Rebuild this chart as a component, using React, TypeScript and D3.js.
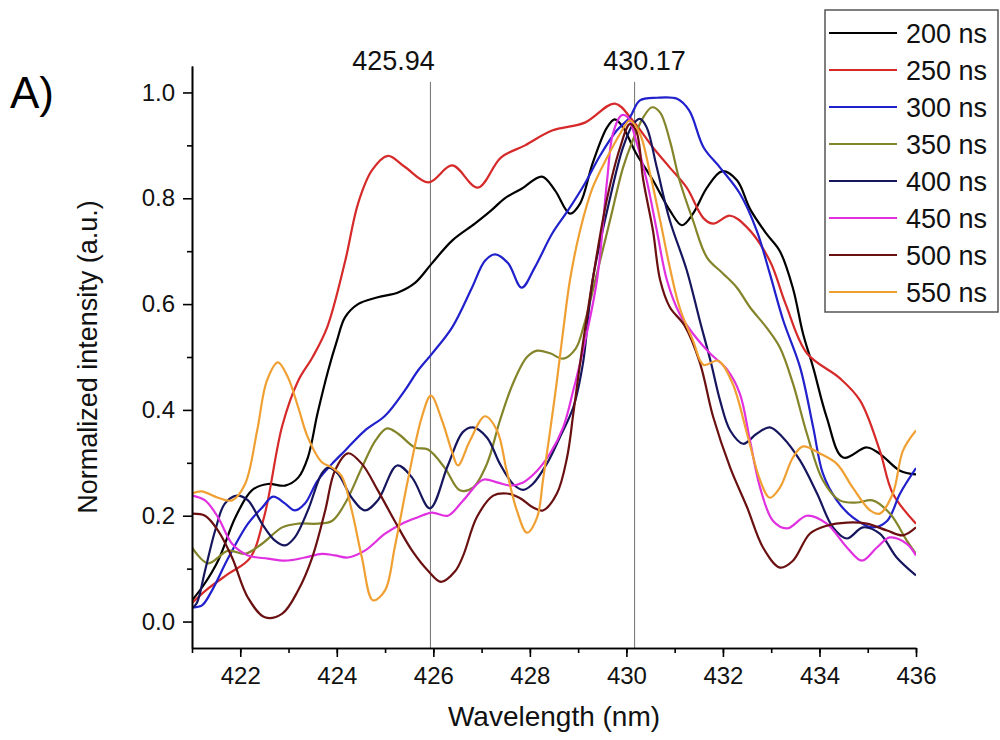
import React, {useEffect, useRef} from 'react';
import * as d3 from 'd3';

type Pt = [number, number];

// wavelength (nm), normalized intensity
const ns200: Pt[] = [
  [421.0, 0.04], [421.25, 0.07], [421.54, 0.115], [421.9, 0.197], [422.24, 0.248], [422.57, 0.26],
  [422.93, 0.257], [423.2, 0.272], [423.4, 0.31], [423.6, 0.393], [423.82, 0.474], [424.0, 0.53],
  [424.17, 0.575], [424.44, 0.6], [424.85, 0.613], [425.27, 0.622], [425.62, 0.64], [425.97, 0.677],
  [426.39, 0.72], [426.86, 0.752], [427.2, 0.777], [427.48, 0.8], [427.83, 0.818], [428.25, 0.841],
  [428.52, 0.815], [428.83, 0.771], [429.04, 0.79], [429.3, 0.866], [429.6, 0.934], [429.76, 0.949],
  [429.93, 0.934], [430.2, 0.885], [430.55, 0.834], [430.9, 0.777], [431.15, 0.749], [431.38, 0.771],
  [431.67, 0.82], [431.98, 0.851], [432.29, 0.834], [432.56, 0.78], [432.9, 0.733], [433.18, 0.7],
  [433.45, 0.63], [433.66, 0.544], [433.87, 0.48], [434.15, 0.386], [434.49, 0.31], [434.98, 0.329],
  [435.25, 0.317], [435.67, 0.285], [436.0, 0.278],
];
const ns250: Pt[] = [
  [421.0, 0.035], [421.3, 0.06], [421.75, 0.09], [422.2, 0.12], [422.5, 0.2], [422.87, 0.37],
  [423.2, 0.455], [423.5, 0.5], [423.8, 0.556], [424.17, 0.68], [424.44, 0.79], [424.73, 0.853],
  [425.06, 0.88], [425.4, 0.86], [425.9, 0.83], [426.39, 0.862], [426.92, 0.82], [427.4, 0.877],
  [427.9, 0.9], [428.46, 0.928], [429.14, 0.943], [429.76, 0.979], [430.13, 0.947], [430.55, 0.896],
  [430.9, 0.858], [431.25, 0.82], [431.6, 0.762], [431.8, 0.752], [432.15, 0.767], [432.5, 0.745],
  [432.97, 0.682], [433.3, 0.6], [433.74, 0.507], [434.42, 0.46], [434.84, 0.418], [435.25, 0.323],
  [435.52, 0.242], [436.0, 0.185],
];
const ns300: Pt[] = [
  [421.0, 0.027], [421.2, 0.03], [421.41, 0.058], [421.75, 0.12], [422.16, 0.185], [422.45, 0.215],
  [422.68, 0.236], [422.93, 0.223], [423.13, 0.21], [423.34, 0.223], [423.6, 0.266], [423.9, 0.298],
  [424.17, 0.323], [424.58, 0.361], [425.0, 0.389], [425.41, 0.437], [425.68, 0.474], [425.97, 0.506],
  [426.39, 0.556], [426.8, 0.631], [427.07, 0.682], [427.28, 0.694], [427.55, 0.677], [427.83, 0.631],
  [428.1, 0.669], [428.46, 0.733], [428.79, 0.777], [429.14, 0.828], [429.45, 0.88], [429.8, 0.928],
  [430.07, 0.953], [430.28, 0.985], [430.63, 0.99], [431.05, 0.988], [431.3, 0.966], [431.6, 0.896],
  [431.94, 0.858], [432.35, 0.809], [432.7, 0.739], [432.97, 0.658], [433.25, 0.569], [433.6, 0.48],
  [433.87, 0.367], [434.07, 0.28], [434.36, 0.229], [434.69, 0.197], [435.1, 0.178], [435.4, 0.19],
  [435.67, 0.242], [436.0, 0.29],
];
const ns350: Pt[] = [
  [421.0, 0.14], [421.33, 0.11], [421.75, 0.134], [422.1, 0.128], [422.45, 0.147], [422.87, 0.178],
  [423.2, 0.185], [423.6, 0.185], [423.9, 0.19], [424.17, 0.223], [424.52, 0.291], [424.8, 0.342],
  [425.04, 0.365], [425.27, 0.355], [425.62, 0.329], [425.89, 0.325], [426.24, 0.29], [426.55, 0.248],
  [426.82, 0.253], [427.11, 0.298], [427.38, 0.38], [427.65, 0.45], [427.94, 0.5], [428.15, 0.512],
  [428.42, 0.507], [428.69, 0.497], [428.95, 0.516], [429.12, 0.56], [429.39, 0.658], [429.66, 0.758],
  [429.93, 0.858], [430.13, 0.909], [430.35, 0.953], [430.53, 0.972], [430.7, 0.962], [430.9, 0.909],
  [431.1, 0.834], [431.38, 0.758], [431.67, 0.688], [432.0, 0.658], [432.29, 0.631], [432.56, 0.594],
  [432.9, 0.556], [433.18, 0.518], [433.45, 0.45], [433.74, 0.355], [434.07, 0.267], [434.42, 0.229],
  [434.78, 0.225], [435.1, 0.229], [435.46, 0.204], [435.81, 0.153], [436.0, 0.128],
];
const ns400: Pt[] = [
  [421.0, 0.025], [421.1, 0.035], [421.27, 0.096], [421.48, 0.172], [421.68, 0.223], [421.93, 0.238],
  [422.16, 0.229], [422.45, 0.185], [422.72, 0.153], [422.93, 0.144], [423.13, 0.159], [423.4, 0.21],
  [423.69, 0.28], [423.82, 0.291], [424.02, 0.28], [424.31, 0.234], [424.58, 0.21], [424.85, 0.229],
  [425.25, 0.295], [425.56, 0.272], [425.93, 0.214], [426.3, 0.295], [426.61, 0.358], [426.82, 0.367],
  [427.11, 0.348], [427.38, 0.298], [427.65, 0.26], [427.86, 0.249], [428.06, 0.26], [428.35, 0.298],
  [428.62, 0.348], [428.9, 0.405], [429.1, 0.488], [429.3, 0.645], [429.66, 0.8], [429.93, 0.896],
  [430.14, 0.94], [430.28, 0.95], [430.42, 0.934], [430.63, 0.858], [430.9, 0.758], [431.25, 0.664],
  [431.52, 0.569], [431.75, 0.49], [431.94, 0.418], [432.15, 0.361], [432.42, 0.336], [432.7, 0.355],
  [432.97, 0.367], [433.24, 0.348], [433.6, 0.304], [433.95, 0.242], [434.28, 0.178], [434.57, 0.157],
  [434.9, 0.178], [435.25, 0.166], [435.6, 0.121], [436.0, 0.087],
];
const ns450: Pt[] = [
  [421.0, 0.238], [421.27, 0.229], [421.54, 0.197], [421.83, 0.147], [422.16, 0.125], [422.57, 0.119],
  [422.93, 0.115], [423.34, 0.121], [423.69, 0.128], [423.96, 0.125], [424.23, 0.121], [424.58, 0.134],
  [425.0, 0.166], [425.35, 0.185], [425.68, 0.197], [425.97, 0.206], [426.3, 0.2], [426.61, 0.228],
  [427.03, 0.268], [427.32, 0.263], [427.59, 0.257], [427.86, 0.263], [428.15, 0.285], [428.42, 0.318],
  [428.69, 0.367], [428.9, 0.437], [429.1, 0.512], [429.39, 0.645], [429.6, 0.834], [429.72, 0.922],
  [429.9, 0.957], [430.03, 0.953], [430.2, 0.909], [430.42, 0.834], [430.63, 0.739], [430.84, 0.645],
  [431.1, 0.582], [431.38, 0.544], [431.73, 0.507], [432.08, 0.477], [432.35, 0.431], [432.56, 0.342],
  [432.77, 0.253], [433.04, 0.19], [433.33, 0.176], [433.74, 0.2], [434.15, 0.185], [434.57, 0.14],
  [434.88, 0.115], [435.19, 0.14], [435.46, 0.159], [435.81, 0.147], [436.0, 0.125],
];
const ns500: Pt[] = [
  [421.0, 0.204], [421.27, 0.2], [421.54, 0.172], [421.83, 0.121], [422.16, 0.045], [422.51, 0.008],
  [422.87, 0.015], [423.2, 0.059], [423.49, 0.121], [423.76, 0.21], [423.96, 0.285], [424.23, 0.318],
  [424.52, 0.298], [424.85, 0.248], [425.2, 0.19], [425.56, 0.134], [425.89, 0.096], [426.16, 0.075],
  [426.45, 0.095], [426.62, 0.125], [426.9, 0.197], [427.24, 0.238], [427.52, 0.242], [427.8, 0.233],
  [428.06, 0.216], [428.27, 0.21], [428.56, 0.242], [428.77, 0.31], [428.9, 0.393], [429.04, 0.488],
  [429.3, 0.645], [429.6, 0.8], [429.87, 0.896], [430.07, 0.94], [430.2, 0.928], [430.35, 0.834],
  [430.55, 0.739], [430.7, 0.645], [430.9, 0.594], [431.2, 0.56], [431.52, 0.49], [431.8, 0.386],
  [432.15, 0.291], [432.5, 0.216], [432.83, 0.14], [433.18, 0.102], [433.45, 0.115], [433.8, 0.166],
  [434.15, 0.181], [434.57, 0.187], [434.98, 0.185], [435.4, 0.172], [435.73, 0.163], [436.0, 0.178],
];
const ns550: Pt[] = [
  [421.0, 0.242], [421.2, 0.246], [421.54, 0.234], [421.83, 0.229], [422.1, 0.26], [422.35, 0.361],
  [422.55, 0.455], [422.78, 0.49], [422.99, 0.461], [423.2, 0.405], [423.4, 0.348], [423.69, 0.301],
  [423.9, 0.291], [424.1, 0.275], [424.31, 0.21], [424.52, 0.121], [424.75, 0.04], [425.0, 0.059],
  [425.2, 0.14], [425.47, 0.266], [425.76, 0.386], [425.95, 0.427], [426.18, 0.38], [426.39, 0.32],
  [426.51, 0.295], [426.76, 0.342], [427.07, 0.388], [427.32, 0.361], [427.52, 0.285], [427.73, 0.21],
  [427.94, 0.168], [428.15, 0.197], [428.27, 0.266], [428.42, 0.361], [428.56, 0.455], [428.69, 0.55],
  [428.83, 0.645], [429.04, 0.739], [429.3, 0.82], [429.6, 0.877], [429.87, 0.922], [430.07, 0.947],
  [430.28, 0.922], [430.49, 0.847], [430.7, 0.758], [430.9, 0.669], [431.1, 0.594], [431.38, 0.531],
  [431.6, 0.485], [431.9, 0.493], [432.2, 0.45], [432.5, 0.355], [432.77, 0.267], [432.97, 0.234],
  [433.18, 0.253], [433.45, 0.31], [433.66, 0.331], [434.0, 0.318], [434.36, 0.298], [434.69, 0.253],
  [435.05, 0.21], [435.25, 0.204], [435.52, 0.242], [435.73, 0.323], [436.0, 0.361],
];

const seriesNames = ['200 ns', '250 ns', '300 ns', '350 ns', '400 ns', '450 ns', '500 ns', '550 ns'];
const seriesColors = ['#000000', '#d62a2a', '#2020cc', '#84842a', '#16165e', '#e030e0', '#6a1010', '#f0a032'];
const seriesData = [ns200, ns250, ns300, ns350, ns400, ns450, ns500, ns550];

const peakLines = [425.94, 430.17];
const peakLabelShift = [-37, 10];

const xMajor = [422, 424, 426, 428, 430, 432, 434, 436];
const xMinor = d3.range(421, 437, 1);
const yMajor = [0, 0.2, 0.4, 0.6, 0.8, 1.0];
const yMinor = [0.1, 0.3, 0.5, 0.7, 0.9];

const FONT = "'Liberation Sans', Arial, sans-serif";

const App: React.FC = () => {
  const svgRef = useRef<SVGSVGElement | null>(null);

  useEffect(() => {
    if (!svgRef.current) return;
    const width = 1000;
    const height = 740;
    const margin = {top: 66, right: 84, bottom: 92, left: 192};
    const innerWidth = width - margin.left - margin.right;
    const innerHeight = height - margin.top - margin.bottom;

    const svg = d3.select(svgRef.current);
    svg.selectAll('*').remove();

    const x = d3.scaleLinear().domain([421, 436]).range([0, innerWidth]);
    const y = d3.scaleLinear().domain([-0.05, 1.05]).range([innerHeight, 0]);

    const g = svg.append('g').attr('transform', `translate(${margin.left},${margin.top})`);

    g.append('clipPath')
      .attr('id', 'plot-clip')
      .append('rect')
      .attr('width', innerWidth)
      .attr('height', innerHeight);

    // peak marker lines
    g.selectAll('.peak')
      .data(peakLines)
      .enter()
      .append('line')
      .attr('x1', (d) => x(d))
      .attr('x2', (d) => x(d))
      .attr('y1', y(1.02))
      .attr('y2', innerHeight)
      .attr('stroke', '#707070')
      .attr('stroke-width', 1);

    g.selectAll('.peak-label')
      .data(peakLines)
      .enter()
      .append('text')
      .attr('x', (d, i) => x(d) + peakLabelShift[i])
      .attr('y', 4)
      .attr('text-anchor', 'middle')
      .style('font-family', FONT)
      .style('font-size', '27px')
      .style('fill', '#111')
      .text((d) => d.toFixed(2));

    const line = d3
      .line<Pt>()
      .x((d) => x(d[0]))
      .y((d) => y(d[1]))
      .curve(d3.curveCatmullRom.alpha(0.5));

    g.append('g')
      .attr('clip-path', 'url(#plot-clip)')
      .selectAll('path')
      .data(seriesData)
      .enter()
      .append('path')
      .attr('d', (d) => line(d))
      .attr('fill', 'none')
      .attr('stroke', (_d, i) => seriesColors[i])
      .attr('stroke-width', 2.2)
      .attr('stroke-linejoin', 'round');

    // axes
    const xAxis = g.append('g').attr('transform', `translate(0,${innerHeight})`);
    xAxis.call(d3.axisBottom(x).tickValues(xMinor).tickSize(5).tickSizeOuter(0).tickFormat(() => ''));
    xAxis
      .append('g')
      .call(d3.axisBottom(x).tickValues(xMajor).tickSize(9).tickSizeOuter(0).tickPadding(10).tickFormat(d3.format('d')));

    const yAxis = g.append('g');
    yAxis.call(d3.axisLeft(y).tickValues(yMinor).tickSize(5).tickSizeOuter(0).tickFormat(() => ''));
    yAxis
      .append('g')
      .call(d3.axisLeft(y).tickValues(yMajor).tickSize(9).tickSizeOuter(0).tickPadding(8).tickFormat(d3.format('.1f')));

    g.selectAll('.domain').attr('stroke', '#000').attr('stroke-width', 1.6);
    g.selectAll('.tick line').attr('stroke', '#000').attr('stroke-width', 1.6);
    g.selectAll('.tick text').style('font-family', FONT).style('font-size', '24px').style('fill', '#111');

    g.append('text')
      .attr('x', innerWidth / 2)
      .attr('y', innerHeight + 78)
      .attr('text-anchor', 'middle')
      .style('font-family', FONT)
      .style('font-size', '28px')
      .style('fill', '#111')
      .text('Wavelength (nm)');

    g.append('text')
      .attr('transform', `translate(${-95},${innerHeight / 2}) rotate(-90)`)
      .attr('text-anchor', 'middle')
      .style('font-family', FONT)
      .style('font-size', '27px')
      .style('fill', '#111')
      .text('Normalized intensity (a.u.)');

    svg
      .append('text')
      .attr('x', 10)
      .attr('y', 108)
      .style('font-family', FONT)
      .style('font-size', '44px')
      .style('fill', '#000')
      .text('A)');

    // legend
    const legend = svg.append('g').attr('transform', 'translate(825,10)');
    legend
      .append('rect')
      .attr('width', 173)
      .attr('height', 302)
      .attr('fill', '#fff')
      .attr('stroke', '#555')
      .attr('stroke-width', 1.5);
    const rows = legend
      .selectAll('.row')
      .data(seriesNames)
      .enter()
      .append('g')
      .attr('transform', (_d, i) => `translate(0,${23 + i * 37})`);
    rows
      .append('line')
      .attr('x1', 4)
      .attr('x2', 72)
      .attr('stroke', (_d, i) => seriesColors[i])
      .attr('stroke-width', 2.2);
    rows
      .append('text')
      .attr('x', 81)
      .attr('dy', '0.36em')
      .style('font-family', FONT)
      .style('font-size', '27px')
      .style('fill', '#111')
      .text((d) => d);
  }, []);

  return (
    <svg
      ref={svgRef}
      width={1000}
      height={740}
      style={{position: 'absolute', left: 0, top: 0, background: '#fff'}}
    />
  );
};

export default App;
